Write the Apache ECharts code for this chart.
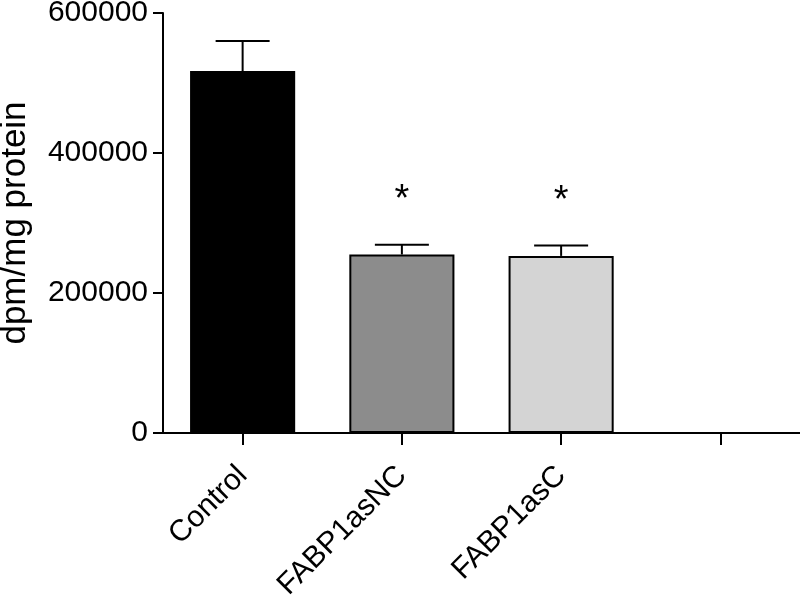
<!DOCTYPE html>
<html>
<head>
<meta charset="utf-8">
<script src="https://cdn.jsdelivr.net/npm/echarts@6/dist/echarts.min.js"></script>
<style>
  html, body { margin: 0; padding: 0; background: #fff; }
  #chart { width: 800px; height: 604px; }
</style>
</head>
<body>
<div id="chart"></div>
<script>
  // data
  const categories = ['Control', 'FABP1asNC', 'FABP1asC', '']
  const means = [517000, 255000, 253000, null]
  const errTop = [560000, 269000, 268000, null]
  const signif = ['', '*', '*', '']
  const barColors = ['#000000', '#8c8c8c', '#d4d4d4', '#ffffff']
  const yTicks = [0, 200000, 400000, 600000]

  const font = 'Liberation Sans, Arial, Helvetica, sans-serif'
  const chart = echarts.init(document.getElementById('chart'))

  chart.setOption({
    animation: false,
    backgroundColor: '#fff',
    grid: { left: 163, right: 0, top: 13, bottom: 171, containLabel: false, outerBoundsMode: 'none' },
    xAxis: {
      type: 'category',
      data: categories,
      axisLine: { lineStyle: { color: '#000', width: 2 } },
      axisTick: { show: true, length: 12, alignWithLabel: true, lineStyle: { color: '#000', width: 2 } },
      axisLabel: {
        interval: 0, rotate: 45, margin: 38,
        color: '#000', fontSize: 30, fontFamily: font
      }
    },
    yAxis: {
      type: 'value',
      min: yTicks[0],
      max: yTicks[yTicks.length - 1],
      interval: 200000,
      name: 'dpm/mg protein',
      nameLocation: 'middle',
      nameGap: 130,
      nameTextStyle: { color: '#000', fontSize: 35, fontFamily: font },
      axisLine: { show: true, lineStyle: { color: '#000', width: 2 } },
      axisTick: { show: true, length: 10, lineStyle: { color: '#000', width: 2 } },
      axisLabel: {
        color: '#000', fontSize: 30, fontFamily: font, margin: 15,
        formatter: v => String(v)
      },
      splitLine: { show: false }
    },
    series: [
      {
        type: 'bar',
        barWidth: '66%',
        z: 2,
        data: means.map((v, i) => ({
          value: v,
          itemStyle: { color: barColors[i], borderColor: '#000', borderWidth: 2 }
        }))
      },
      {
        // error bars (upper half only) and significance stars
        type: 'custom',
        z: 1,
        data: categories.map((c, i) => [i, means[i], errTop[i], signif[i]]),
        renderItem: function (params, api) {
          if (api.value(1) == null || isNaN(api.value(1))) return
          const base = api.coord([api.value(0), api.value(1)])
          const top = api.coord([api.value(0), api.value(2)])
          const half = 27
          const style = { stroke: '#000', lineWidth: 2 }
          const children = [
            { type: 'line', shape: { x1: base[0], y1: base[1], x2: top[0], y2: top[1] }, style: style },
            { type: 'line', shape: { x1: top[0] - half, y1: top[1], x2: top[0] + half, y2: top[1] }, style: style }
          ]
          const s = signif[params.dataIndex]
          if (s) {
            children.push({
              type: 'text',
              style: {
                text: s, x: top[0], y: top[1] - 44,
                align: 'center', verticalAlign: 'middle',
                fill: '#000', font: '38px ' + font
              }
            })
          }
          return { type: 'group', children: children }
        }
      }
    ]
  })
</script>
</body>
</html>
